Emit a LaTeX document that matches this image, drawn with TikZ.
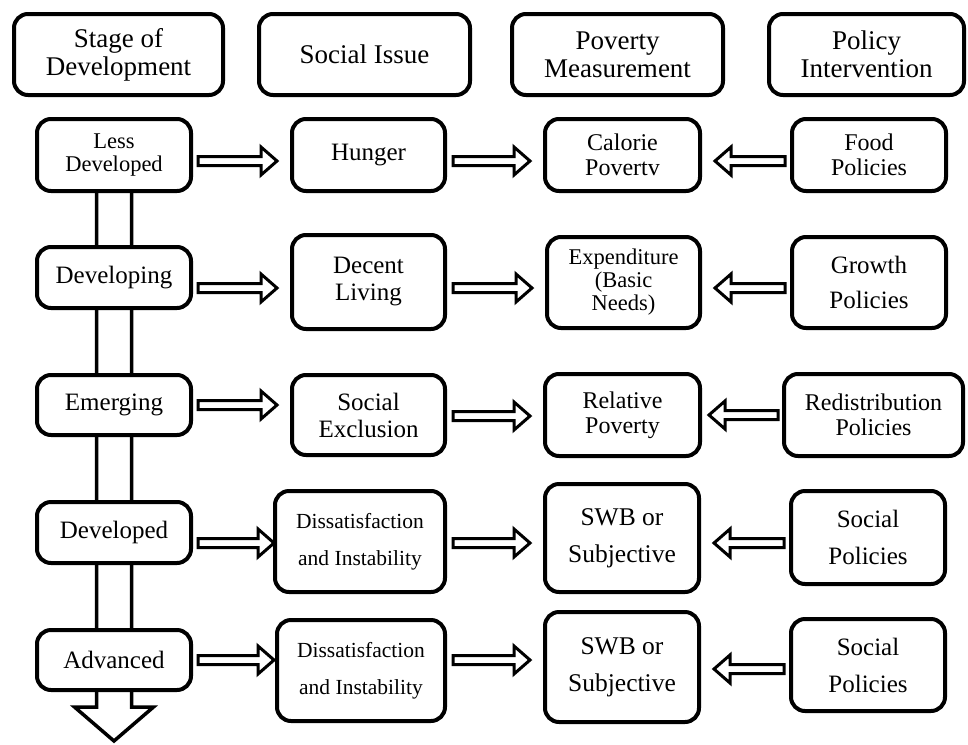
\documentclass[tikz,border=0pt]{standalone}
\usepackage{fontspec}
\setmainfont{Liberation Serif}
\usetikzlibrary{calc}
\pgfdeclarelayer{bg}
\pgfsetlayers{bg,main}
\tikzset{
  box/.style={draw, line width=4pt, rounded corners=14pt, fill=white, align=center,
    inner sep=0pt, outer sep=0pt},
  hdr/.style={font=\fontsize{27}{28}\selectfont},
  fs/.style 2 args={font=\fontsize{#1}{#2}\selectfont},
  arrowline/.style={draw, line width=3pt, fill=white, line join=miter},
  varrow/.style={draw, line width=3.5pt, fill=white, line join=miter},
}
\newcommand\rarr[3]{%
  \draw[arrowline] let \p1=(#1), \p2=(#2), \p3=(0,#3) in
   (\x1,{\y3+4.5pt}) -- ({\x2-16pt},{\y3+4.5pt}) -- ({\x2-16pt},{\y3+14pt}) -- (\x2,\y3)
   -- ({\x2-16pt},{\y3-14pt}) -- ({\x2-16pt},{\y3-4.5pt}) -- (\x1,{\y3-4.5pt}) -- cycle;}
\newcommand\larr[3]{%
  \draw[arrowline] let \p1=(#1), \p2=(#2), \p3=(0,#3) in
   (\x1,{\y3+4.5pt}) -- ({\x2+16pt},{\y3+4.5pt}) -- ({\x2+16pt},{\y3+14pt}) -- (\x2,\y3)
   -- ({\x2+16pt},{\y3-14pt}) -- ({\x2+16pt},{\y3-4.5pt}) -- (\x1,{\y3-4.5pt}) -- cycle;}
\begin{document}
\begin{tikzpicture}[x=1pt,y=-1pt]
\useasboundingbox (0,0) rectangle (968,744);
% headers
\node[box, hdr, minimum width=209pt, minimum height=81pt] (h1) at (118.5,54.5) {Stage of\\Development};
\node[box, hdr, minimum width=211pt, minimum height=81pt] (h2) at (364.5,54.5) {Social Issue};
\node[box, hdr, minimum width=211pt, minimum height=81pt] (h3) at (617.5,54.5) {Poverty\\Measurement};
\node[box, hdr, minimum width=195pt, minimum height=81pt] (h4) at (866.5,54.5) {Policy\\Intervention};
% column 1
\node[box, fs={22.5}{23}, minimum width=154pt, minimum height=72pt] (ld) at (114,155) {Less\\Developed};
\node[box, fs={25}{26}, minimum width=154pt, minimum height=61pt] (dg) at (114,277.5) {Developing};
\node[box, fs={25}{26}, minimum width=154pt, minimum height=60pt] (em) at (114,405) {Emerging};
\node[box, fs={25}{26}, minimum width=154pt, minimum height=61pt] (dd) at (114,532.5) {Developed};
\node[box, fs={25}{26}, minimum width=154pt, minimum height=60pt] (ad) at (114,660) {Advanced};
% column 2
\node[box, fs={25}{26}, minimum width=153pt, minimum height=72pt] (hu) at (368.5,155) {Hunger};
\node[box, fs={25}{27}, minimum width=153pt, minimum height=94pt] (dl) at (368.5,282) {Decent\\Living};
\node[box, fs={25}{27}, minimum width=153pt, minimum height=80pt] (se) at (368.5,415) {Social\\Exclusion};
\node[box, fs={21.5}{37}, minimum width=170pt, minimum height=101pt] (di1) at (360,541.5) {Dissatisfaction\\and Instability};
\node[box, fs={21.5}{37}, minimum width=168pt, minimum height=101pt] (di2) at (361,670.5) {Dissatisfaction\\and Instability};
% column 3
\node[box, fs={24}{25}, minimum width=155pt, minimum height=72pt] (cp) at (622.5,155) {Calorie\\Povertv};
\node[box, fs={22.5}{23}, minimum width=153pt, minimum height=91pt] (ex) at (623.5,282.5) {Expenditure\\(Basic\\Needs)};
\node[box, fs={24}{25}, minimum width=155pt, minimum height=82pt] (rp) at (622.5,415) {Relative\\Poverty};
\node[box, fs={25.5}{37}, minimum width=154pt, minimum height=108pt] (sw1) at (622,538) {SWB or\\Subjective};
\node[box, fs={25.5}{37}, minimum width=154pt, minimum height=110pt] (sw2) at (622,667) {SWB or\\Subjective};
% column 4
\node[box, fs={24}{25}, minimum width=154pt, minimum height=72pt] (fp) at (869,155) {Food\\Policies};
\node[box, fs={25}{35}, minimum width=154pt, minimum height=91pt] (gp) at (869,282.5) {Growth\\Policies};
\node[box, fs={24}{25}, minimum width=179pt, minimum height=82pt] (rd) at (873.5,415) {Redistribution\\Policies};
\node[box, fs={25}{37}, minimum width=154pt, minimum height=93pt] (sp1) at (868,537.5) {Social\\Policies};
\node[box, fs={25}{37}, minimum width=154pt, minimum height=92pt] (sp2) at (868,665) {Social\\Policies};
% vertical arrow
\begin{pgfonlayer}{bg}
\draw[varrow] ($(ld.south)+(-17.5,0)$) -- ($(ad.south)+(-17.5,17)$) -- ($(ad.south)+(-39.5,17)$)
  -- ($(ad.south)+(0,51)$) -- ($(ad.south)+(39.5,17)$) -- ($(ad.south)+(17.5,17)$) -- ($(ld.south)+(17.5,0)$);
\end{pgfonlayer}
% row 1
\rarr{$(ld.east)+(7,0)$}{$(hu.west)+(-15,0)$}{161}
\rarr{$(hu.east)+(8,0)$}{$(cp.west)+(-15,0)$}{161}
\larr{$(fp.west)+(-7,0)$}{$(cp.east)+(15,0)$}{161}
% row 2
\rarr{$(dg.east)+(7,0)$}{$(dl.west)+(-15,0)$}{288}
\rarr{$(dl.east)+(8,0)$}{$(ex.west)+(-15,0)$}{288}
\larr{$(gp.west)+(-7,0)$}{$(ex.east)+(15,0)$}{288}
% row 3
\rarr{$(em.east)+(7,0)$}{$(se.west)+(-15,0)$}{405}
\rarr{$(se.east)+(8,0)$}{$(rp.west)+(-15,0)$}{416}
\larr{$(rd.west)+(-6,0)$}{$(rp.east)+(9,0)$}{415}
% row 4
\rarr{$(dd.east)+(7,0)$}{$(di1.west)+(-1,0)$}{543}
\rarr{$(di1.east)+(8,0)$}{$(sw1.west)+(-15,0)$}{543}
\larr{$(sp1.west)+(-7,0)$}{$(sw1.east)+(15,0)$}{543}
% row 5
\rarr{$(ad.east)+(7,0)$}{$(di2.west)+(-3,0)$}{660}
\rarr{$(di2.east)+(8,0)$}{$(sw2.west)+(-15,0)$}{660}
\larr{$(sp2.west)+(-7,0)$}{$(sw2.east)+(15,0)$}{669}
\end{tikzpicture}
\end{document}
